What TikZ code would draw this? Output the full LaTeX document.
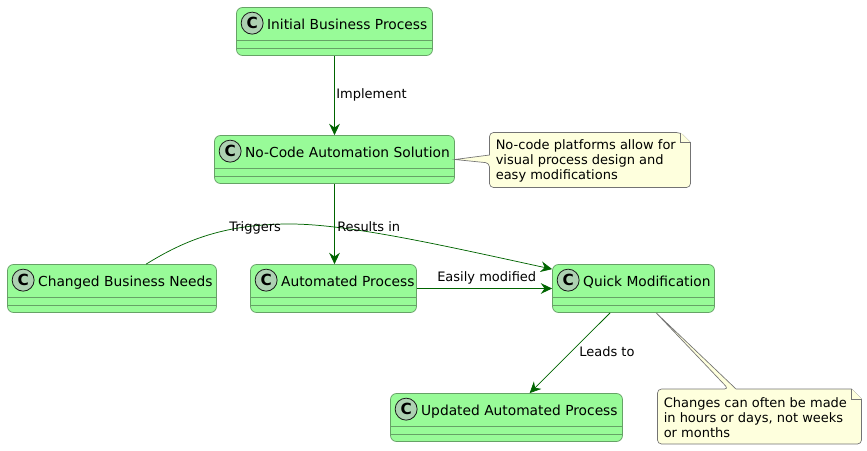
\documentclass[tikz,border=0pt]{standalone}
\usepackage{fontspec}
\setmainfont{DejaVu Sans}
\usetikzlibrary{arrows.meta,calc,positioning}
\definecolor{linegreen}{RGB}{0,100,0}
\definecolor{boxgreen}{RGB}{152,251,152}
\definecolor{circgreen}{RGB}{173,209,178}
\definecolor{noteyellow}{RGB}{254,255,221}
\tikzstyle{arrow}=[-{Stealth[length=8.5pt,width=8pt,inset=2.8pt]},line width=.8pt,draw=linegreen]
\tikzstyle{thinarrow}=[arrow,line width=.55pt]
\tikzstyle{classbox}=[draw=linegreen!60,fill=boxgreen,line width=.55pt,rounded corners=4.5pt,minimum height=36pt,inner sep=0pt]
\tikzstyle{sepline}=[draw=linegreen!60,line width=.55pt]
\tikzstyle{circ}=[circle,draw=black!90,fill=circgreen,line width=.6pt,minimum size=16.5pt,inner sep=0pt,font=\fontsize{11.5}{12}\bfseries]
\tikzstyle{classtitle}=[inner sep=0pt,text height=7.6pt,text depth=2.2pt,yshift=-1.9pt,font=\fontsize{10.35}{12}\selectfont]
\tikzstyle{lab}=[inner sep=0pt,text height=7.4pt,text depth=2pt,yshift=-1.4pt,font=\fontsize{9.75}{12}\selectfont]
\tikzstyle{notebox}=[draw=black!55,fill=noteyellow,line width=.5pt]
\tikzstyle{notetext}=[inner sep=0pt,align=left,anchor=west,font=\fontsize{9.75}{11.25}\selectfont]
% name, centre x, centre y, width in pt, title
\newcommand{\classbox}[5]{
	\node[classbox,minimum width=#4pt] (#1) at (#2,#3) {};
	\node[circ] (#1C) at ($(#1.north west)+(16,16)$) {C};
	\node[classtitle,right=2.5pt of #1C] (#1T) {#5};
	\draw[sepline] ($(#1.south west)+(0,-16)$) -- ($(#1.south east)+(0,-16)$);
	\draw[sepline] ($(#1.south west)+(0,-8)$) -- ($(#1.south east)+(0,-8)$);
}

\begin{document}
\begin{tikzpicture}[x=.75pt,y=-.75pt]
	\useasboundingbox (0,0) rectangle (867,450);

	\classbox{initial}{334.5}{31.5}{147}{Initial Business Process}
	\classbox{nocode}{334.5}{159.5}{180}{No-Code Automation Solution}
	\classbox{changed}{112}{288.5}{156.75}{Changed Business Needs}
	\classbox{automated}{333.5}{288.5}{124.5}{Automated Process}
	\classbox{quick}{633.5}{288.5}{121.5}{Quick Modification}
	\classbox{updated}{506.5}{417.5}{174}{Updated Automated Process}

	%edges
	\draw[arrow] (initial.south) -- (nocode.north);
	\draw[arrow] (nocode.south) -- (nocode.south |- automated.north);
	\draw[arrow] (automated.east) -- (quick.west);
	\coordinate (quickOut) at ($(quick.south west)+(58,0)$);
	\coordinate (updatedIn) at ($(updated.north west)+(139.5,0)$);
	\draw[thinarrow] (quickOut) -- (updatedIn);
	\coordinate (changedOut) at ($(changed.north west)+(139,0)$);
	\coordinate (quickIn) at ($(quick.north west)+(0,5)$);
	\draw[thinarrow] (changedOut) .. controls (185,240) and (225,224) .. (290,224)
	.. controls (350,224) and (450,247) .. (quickIn);

	%labels
	\node[lab,anchor=west] (implementL) at (336,93) {Implement};
	\node[lab,anchor=west] (resultsL) at (337,226) {Results in};
	\node[lab,anchor=west] (triggersL) at (229,226) {Triggers};
	\node[lab,anchor=west] (modifiedL) at (437,276) {Easily modified};
	\node[lab,anchor=west] (leadsL) at (579,351) {Leads to};

	%notes
	\draw[notebox,rounded corners=0pt] (489.5,163) -- (nocode.east) -- (489.5,155)
	[rounded corners=3pt] -- (489.5,132.5) -- (680.5,132.5) [sharp corners] -- (690.5,142.5)
	[rounded corners=3pt] -- (690.5,187.5) -- (489.5,187.5) -- cycle;
	\draw[notebox] (680.5,132.5) -- (680.5,142.5) -- (690.5,142.5);
	\node[notetext] (noteA) at (495.5,161) {No-code platforms allow for\\visual process design and\\easy modifications};

	\coordinate (quickNote) at ($(quick.south west)+(104,0)$);
	\draw[notebox,rounded corners=0pt] (728.5,389) -- (quickNote) -- (736,389)
	-- (851.5,389) -- (861.5,399) [rounded corners=3pt] -- (861.5,444) -- (657.5,444) -- (657.5,389) -- cycle;
	\draw[notebox] (851.5,389) -- (851.5,399) -- (861.5,399);
	\node[notetext] (noteB) at (663.5,417.5) {Changes can often be made\\in hours or days, not weeks\\or months};
\end{tikzpicture}
\end{document}
